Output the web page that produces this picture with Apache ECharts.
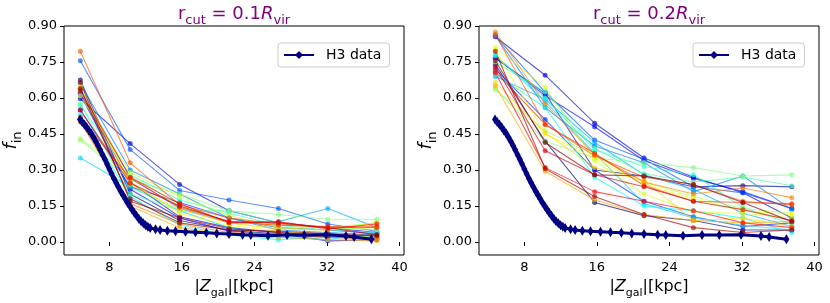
<!DOCTYPE html>
<html><head><meta charset="utf-8">
<script src="https://cdn.jsdelivr.net/npm/echarts@6/dist/echarts.min.js"></script>
<style>html,body{margin:0;padding:0;background:#fff}#c{width:830px;height:303px}</style>
</head><body><div id="c"></div>
<script>
// ---- data ----
const xSim = [4.8, 10.3, 15.75, 21.2, 26.65, 32.1, 37.5];
const xTicks = [8, 16, 24, 32, 40];
const yTicks = [0, 0.15, 0.30, 0.45, 0.60, 0.75, 0.90];
const h3X = [4.77, 5.0, 5.25, 5.5, 5.75, 6.0, 6.25, 6.5, 6.75, 7.0, 7.25, 7.5, 7.75, 8.0, 8.25, 8.5, 8.75, 9.0, 9.25, 9.5, 9.75, 10.0, 10.25, 10.5, 10.75, 11.0, 11.25, 11.5, 11.75, 12.0, 12.25, 12.5, 13.1, 13.6, 14.4, 15.3, 16.4, 17.5, 18.7, 19.85, 21.2, 22.7, 23.6, 25.5, 27.6, 29.5, 31.9, 34.1, 35.0, 36.9];
const h3Y = [0.510, 0.500, 0.490, 0.478, 0.465, 0.452, 0.437, 0.420, 0.402, 0.383, 0.364, 0.345, 0.325, 0.304, 0.285, 0.265, 0.247, 0.229, 0.212, 0.196, 0.180, 0.164, 0.150, 0.136, 0.122, 0.109, 0.097, 0.087, 0.078, 0.070, 0.064, 0.059, 0.053, 0.050, 0.047, 0.045, 0.043, 0.041, 0.039, 0.036, 0.033, 0.030, 0.029, 0.026, 0.029, 0.029, 0.030, 0.025, 0.021, 0.012];
const sim01 = [
  [0.675, 0.20, 0.09, 0.05, 0.03, 0.02, 0.015],
  [0.62, 0.25, 0.105, 0.06, 0.04, 0.03, 0.02],
  [0.597, 0.41, 0.24, 0.13, 0.08, 0.06, 0.04],
  [0.615, 0.22, 0.10, 0.045, 0.035, 0.005, 0.01],
  [0.55, 0.23, 0.165, 0.10, 0.06, 0.05, 0.035],
  [0.755, 0.385, 0.215, 0.175, 0.14, 0.075, 0.045],
  [0.66, 0.30, 0.20, 0.10, 0.05, 0.04, 0.03],
  [0.64, 0.27, 0.14, 0.08, 0.085, 0.14, 0.06],
  [0.35, 0.23, 0.13, 0.06, 0.02, 0.01, 0.04],
  [0.53, 0.19, 0.07, 0.03, 0.01, 0.02, 0.025],
  [0.57, 0.28, 0.175, 0.12, 0.07, 0.05, 0.04],
  [0.575, 0.20, 0.13, 0.13, 0.08, 0.06, 0.05],
  [0.425, 0.26, 0.20, 0.13, 0.115, 0.095, 0.095],
  [0.43, 0.28, 0.15, 0.085, 0.07, 0.06, 0.08],
  [0.61, 0.29, 0.19, 0.11, 0.06, 0.05, 0.06],
  [0.65, 0.25, 0.12, 0.07, 0.045, 0.03, 0.02],
  [0.64, 0.24, 0.135, 0.08, 0.055, 0.05, 0.08],
  [0.505, 0.15, 0.06, 0.03, 0.02, 0.01, 0.005],
  [0.50, 0.16, 0.075, 0.04, 0.035, 0.02, 0.01],
  [0.795, 0.33, 0.155, 0.10, 0.075, 0.06, 0.065],
  [0.52, 0.265, 0.145, 0.085, 0.07, 0.065, 0.06],
  [0.63, 0.27, 0.16, 0.08, 0.085, 0.055, 0.075],
  [0.55, 0.245, 0.15, 0.085, 0.08, 0.06, 0.03],
  [0.665, 0.17, 0.10, 0.055, 0.04, 0.025, 0.03],
  [0.64, 0.18, 0.08, 0.05, 0.045, 0.035, 0.025]
];
const sim02 = [
  [0.74, 0.42, 0.165, 0.11, 0.09, 0.05, 0.05],
  [0.765, 0.62, 0.30, 0.275, 0.23, 0.235, 0.23],
  [0.855, 0.695, 0.495, 0.35, 0.27, 0.205, 0.10],
  [0.77, 0.61, 0.48, 0.34, 0.265, 0.21, 0.14],
  [0.72, 0.51, 0.30, 0.17, 0.105, 0.065, 0.08],
  [0.86, 0.625, 0.425, 0.345, 0.23, 0.205, 0.14],
  [0.86, 0.56, 0.40, 0.33, 0.21, 0.275, 0.135],
  [0.69, 0.595, 0.415, 0.28, 0.22, 0.12, 0.065],
  [0.78, 0.585, 0.37, 0.16, 0.10, 0.07, 0.05],
  [0.70, 0.56, 0.27, 0.15, 0.13, 0.10, 0.04],
  [0.775, 0.60, 0.385, 0.315, 0.28, 0.145, 0.075],
  [0.75, 0.625, 0.39, 0.285, 0.25, 0.27, 0.235],
  [0.64, 0.42, 0.35, 0.33, 0.31, 0.275, 0.28],
  [0.635, 0.465, 0.36, 0.25, 0.19, 0.14, 0.12],
  [0.81, 0.645, 0.34, 0.20, 0.125, 0.12, 0.10],
  [0.80, 0.45, 0.35, 0.24, 0.18, 0.13, 0.115],
  [0.665, 0.455, 0.31, 0.255, 0.09, 0.10, 0.065],
  [0.65, 0.295, 0.175, 0.115, 0.09, 0.08, 0.085],
  [0.875, 0.575, 0.365, 0.25, 0.20, 0.225, 0.185],
  [0.865, 0.49, 0.36, 0.27, 0.24, 0.17, 0.155],
  [0.71, 0.49, 0.37, 0.235, 0.17, 0.165, 0.16],
  [0.705, 0.31, 0.21, 0.17, 0.13, 0.08, 0.06],
  [0.73, 0.38, 0.28, 0.23, 0.17, 0.135, 0.09],
  [0.795, 0.305, 0.19, 0.115, 0.06, 0.04, 0.05],
  [0.755, 0.415, 0.28, 0.275, 0.24, 0.165, 0.085]
];
const panelTitles = ['0.1', '0.2'];
const legendName = 'H3 data';

// ---- chart ----
function jet(t) {
  const f = v => Math.max(0, Math.min(1, v));
  const r = f(1.5 - Math.abs(4 * t - 3)), g = f(1.5 - Math.abs(4 * t - 2)), b = f(1.5 - Math.abs(4 * t - 1));
  return 'rgb(' + Math.round(r * 255) + ',' + Math.round(g * 255) + ',' + Math.round(b * 255) + ')';
}
const FF = 'DejaVu Sans';
const grids = [
  {left: 64, top: 26, width: 340, height: 229},
  {left: 479, top: 26, width: 340, height: 229}
];
const rich = (size, color) => ({
  n: {fontSize: size, fontFamily: FF, fontWeight: 'normal', color: color, lineHeight: size + 8},
  i: {fontSize: size, fontFamily: FF, fontWeight: 'normal', fontStyle: 'italic', color: color, lineHeight: size + 8},
  s: {fontSize: Math.round(size * 0.7), fontFamily: FF, fontWeight: 'normal', color: color, lineHeight: Math.round(size * 0.7), verticalAlign: 'bottom'}
});
const option = {
  animation: false,
  backgroundColor: '#fff',
  title: grids.map((g, k) => ({
    text: '{n|r}{s|cut}{n| = ' + panelTitles[k] + '}{i|R}{s|vir}',
    left: g.left + g.width / 2, textAlign: 'center', top: 1, padding: 0,
    textStyle: {fontWeight: 'normal', rich: rich(18, '#800080')}
  })),
  legend: grids.map((g, k) => ({
    data: [legendName], left: g.left + 214, top: 43,
    padding: [5, 8, 5, 5], itemWidth: 30, itemHeight: 10,
    borderColor: '#ccc', borderWidth: 1, borderRadius: 3,
    textStyle: {fontSize: 14, fontFamily: FF, color: '#000', padding: [0, 0, 0, 7]},
    selectedMode: false
  })),
  grid: grids.map(g => Object.assign({show: true, borderColor: '#000', borderWidth: 1, containLabel: false, outerBoundsMode: 'none'}, g)),
  xAxis: grids.map((g, k) => ({
    gridIndex: k, type: 'value', min: 3, max: 40.5,
    axisLine: {show: false},
    axisTick: {show: true, customValues: xTicks, length: 4, lineStyle: {color: '#000'}},
    axisLabel: {customValues: xTicks, color: '#000', fontSize: 13, fontFamily: FF, margin: 6},
    splitLine: {show: false},
    name: '{n||}{i|Z}{s|gal}{n||[kpc]}', nameLocation: 'middle', nameGap: 18,
    nameTextStyle: {rich: rich(16, '#000')}
  })),
  yAxis: grids.map((g, k) => ({
    gridIndex: k, type: 'value', min: -0.054, max: 0.9,
    axisLine: {show: false},
    axisTick: {show: true, customValues: yTicks, length: 4, lineStyle: {color: '#000'}},
    axisLabel: {customValues: yTicks, color: '#000', fontSize: 13, fontFamily: FF, margin: 7, formatter: v => v.toFixed(2)},
    splitLine: {show: false},
    name: '{i|f}{s|in}', nameLocation: 'middle', nameGap: 33,
    nameTextStyle: {rich: rich(18, '#000')}
  })),
  series: []
};
[sim01, sim02].forEach((sets, k) => {
  sets.forEach((ys, i) => {
    const c = jet(i / (sets.length - 1));
    option.series.push({
      type: 'line', xAxisIndex: k, yAxisIndex: k, silent: true, z: 2,
      data: xSim.map((x, j) => [x, ys[j]]),
      symbol: 'circle', symbolSize: 5,
      lineStyle: {width: 1.1, color: c, opacity: 0.65},
      itemStyle: {color: c, opacity: 0.65}
    });
  });
  option.series.push({
    name: legendName, type: 'line', xAxisIndex: k, yAxisIndex: k, silent: true, z: 5,
    data: h3X.map((x, j) => [x, h3Y[j]]),
    symbol: 'diamond', symbolSize: [6, 10],
    lineStyle: {width: 3, color: '#000080'},
    itemStyle: {color: '#000080'}
  });
});
const chart = echarts.init(document.getElementById('c'), null, {renderer: 'canvas'});
chart.setOption(option);
</script>
</body></html>
